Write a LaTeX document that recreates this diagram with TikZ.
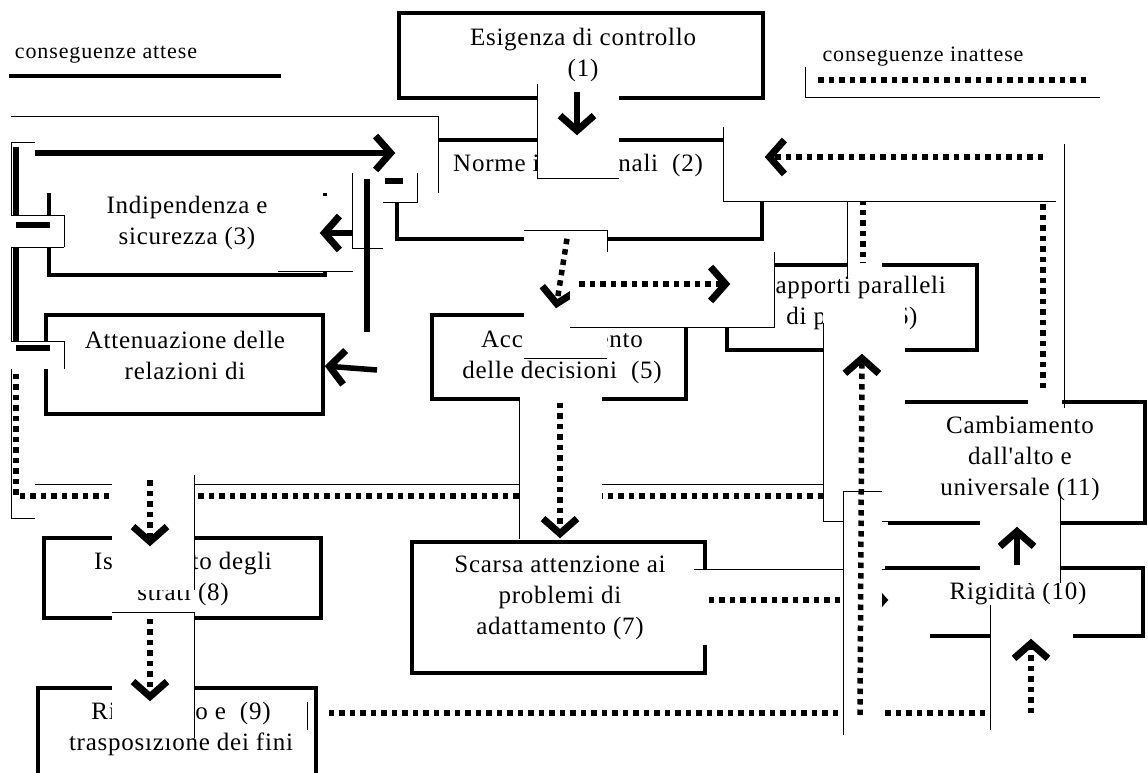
\documentclass[tikz,border=0pt]{standalone}
\usepackage{fontspec}
\setmainfont{Liberation Serif}
\newfontfamily\boxfont[LetterSpace=3]{Liberation Serif}
\newfontfamily\legfont[LetterSpace=4]{Liberation Serif}
\usetikzlibrary{arrows.meta,calc}

\tikzset{
  box/.style={draw, line width=3.5pt, inner sep=0pt},
  txt/.style={align=center, inner sep=0pt,
    font=\boxfont\fontsize{25}{31}\selectfont},
  legtxt/.style={inner sep=0pt, font=\legfont\fontsize{22}{26}\selectfont},
  blank/.style={fill=white},
  rim/.style={line width=1pt},
  firm/.style={line width=5.5pt},
  firmarrow/.style={firm, -{Straight Barb[length=15pt,width=34pt,line width=7pt]}},
  loose/.style={line width=5.5pt, dash pattern=on 5.5pt off 5pt},
  loosearrow/.style={loose, -{Straight Barb[length=15pt,width=34pt,line width=7pt]}},
}

\begin{document}
\begin{tikzpicture}[x=1pt, y=-1pt]
  \useasboundingbox (0,0) rectangle (1148,773);
  % legenda
  \node[legtxt] (leg-a) at (106,55) {conseguenze attese};
  \coordinate (leg-a-l) at (9,76);
  \coordinate (leg-a-r) at (281,76);
  \draw[line width=4pt] (leg-a-l) -- (leg-a-r);
  \node[legtxt] (leg-i) at (923,57) {conseguenze inattese};
  \draw[rim] (805,67) |- (1100,98);
  \coordinate (leg-i-l) at (818,80);
  \coordinate (leg-i-r) at (1087,80);
  \draw[loose] (leg-i-l) -- (leg-i-r);

  \foreach \n/\cx/\cy/\w/\h in {b1/581/55.5/364/85, b2/579.5/189.5/365/99,
      b3/187/227.5/276/95, b4/184.5/364.5/277/99, b5/559/357/254/84,
      b6/852/307.5/250/85, b7/558.5/607.5/293/131, b8/182.5/578/277/80,
      b9/177/740/278/104, b10/1015/602/256/68, b11/1017.5/462.5/255/121}
    \node[box, minimum width=\w pt, minimum height=\h pt] (\n) at (\cx,\cy) {};

  \foreach \n/\cx/\cy/\t in {
      t1/583/55/{Esigenza di controllo\\(1)},
      t2/578/165/{Norme impersonali\ \ (2)},
      t3/187/223/{Indipendenza e\\sicurezza (3)},
      t4/185/355/{Attenuazione delle\\relazioni di},
      t5/562/357/{Accentramento\\delle decisioni\ \ (5)},
      t6/852/303/{Rapporti paralleli\\di potere (6)},
      t7/560/598/{Scarsa attenzione ai\\problemi di\\adattamento (7)},
      t8/183/579/{Isolamento degli\\strati (8)},
      t9/181/729/{Ritualismo e\ \ (9)\\trasposizione dei fini},
      t10/1018/593/{Rigidità (10)},
      t11/1020/458/{Cambiamento\\dall'alto e\\universale (11)}}
    \node[txt] (\n) at (\cx,\cy) {\t};

  % 2 -> 3, 4 (bordo sinistro)
  \fill[blank] (11,117) rectangle (438,193);
  \draw[rim] (11,117) -| (438,193);
  \draw[firmarrow] (35,153) -- ($(b2.west)+(0,-36.5)$);

  \fill[blank] (11,143) rectangle (35,518);
  \draw[rim] (35,143) -| (11,518) -- (35,518);
  \coordinate (lc-top) at (16,147);
  \coordinate (lc-mid) at (16,341);
  \draw[firm] (lc-top) -- (lc-mid);
  \coordinate (row-r) at (823,496);
  \coordinate (row-l) at (16,496);
  \coordinate (row-up) at (16,370);
  \draw[loose] (row-r) -- (row-l) -- (row-up);
  \draw[rim] (35,484) -- (823,484);

  \foreach \ya/\yb/\yd in {215/247/225, 341/369/348} {
    \fill[blank] (11,\ya) rectangle (64,\yb);
    \draw[rim] (11,\ya) -| (64,\yb);
    \draw[firm] (16,\yd) -- (50,\yd);
  }
  \draw[rim] (11,247) -- (64,247);

  \fill[blank] (278,196) rectangle (353,271);
  \draw[rim] (278,271) -- (353,271);
  \draw[firmarrow] (367,233) -- ($(b3.east)+(-7,5.5)$);

  \fill[blank] (352,173) rectangle (383,248);
  \fill[blank] (383,173) rectangle (417,202);
  \draw[rim] (352,173) |- (383,248);
  \draw[rim] (383,202) -| (417,173);
  \coordinate (rc-top) at (367,179);
  \coordinate (rc-bot) at (367,332);
  \draw[firm] (rc-top) -- (rc-bot);
  \draw[firm] (385,181) -- (403,181);
  \draw[firmarrow] (377,370) -- ($(b4.east)+(0,1.5)$);

  % 1 -> 2
  \fill[blank] (537,84) rectangle (619,178);
  \draw[rim] (537,84) |- (619,178);
  \draw[firmarrow] ($(b1.south)+(-4,-8)$) -- ($(b2.north)+(-2.5,-3)$);

  % 2 -> 5 -> 6
  \fill[blank] (524,230) rectangle (607,358);
  \draw[rim] (524,230) -- (607,230) -- (607,252);
  \draw[rim] (524,358) -- (607,358);
  \draw[loosearrow] ($(b2.south)+(-12.5,-2)$) -- ($(b5.north)+(-3,-5)$);
  \fill[blank] (570,252) rectangle (774,327);
  \draw[rim] (570,327) -| (774,252);
  \draw[loosearrow] (579,284) -- ($(b6.west)+(5,-23.5)$);

  % 11 -> 2, 6
  \fill[blank] (847,201) rectangle (882,278);
  \draw[rim] (847,201) -- (847,278);
  \coordinate (up-a) at (863,157);
  \draw[loose] (up-a) -- ($(b6.north)+(11,0)$);
  \fill[blank] (1028,144) rectangle (1062,408);
  \draw[rim] (1064,144) -- (1064,408);
  \coordinate (up-b) at (1043,157);
  \draw[loose] ($(b11.north)+(25.5,-12)$) -- (up-b);
  \fill[blank] (723,127) rectangle (1062,201);
  \draw[rim] (723,127) |- (1056,201);
  \draw[loosearrow] (up-b) -- ($(b2.east)+(1,-32.5)$);

  % 5 -> 7
  \fill[blank] (519,397) rectangle (602,539);
  \draw[rim] (519,397) -- (519,539);
  \draw[loosearrow] ($(b5.south)+(1,2)$) -- ($(b7.north)+(1.5,-2)$);

  \fill[blank] (823,303) rectangle (905,521);
  \draw[rim] (823,323) |- (905,521);

  % 9 -> 10, 7 -> 10
  \draw[rim] (307,702) -- (307,730);
  \coordinate (low-r) at (1000,713);
  \draw[loose] ($(b9.east)+(11,-27)$) -- (low-r);
  \fill[blank] (694,570) rectangle (930,645);
  \draw[rim] (694,569) -- (930,569);
  \draw[loosearrow] ($(b7.east)+(2,-7.5)$) -- ($(b10.west)+(3,-2)$);

  % 9 -> 6
  \fill[blank] (843,491) rectangle (882,735);
  \draw[rim] (882,491) -| (843,735);
  \coordinate (low-m) at (860,715);
  \draw[loosearrow] (low-m) -- ($(b6.south)+(10,2)$);

  \fill[blank] (990,605) rectangle (1073,730);
  \draw[rim] (990,605) -- (990,730);
  \coordinate (low-b) at (1031,713);
  \draw[loosearrow] (low-b) -- ($(b10.south)+(16,1)$);

  % 10 -> 11
  \fill[blank] (980,497) rectangle (1060,583);
  \draw[rim] (1060,497) -- (1060,583);
  \draw[firmarrow] ($(b10.north)+(2,-1)$) -- ($(b11.south)+(-0.5,2)$);

  % -> 8 -> 9
  \fill[blank] (112,475) rectangle (194,590);
  \draw[rim] (194,475) -- (194,590);
  \draw[loosearrow] (150,480) -- ($(b8.north)+(-32.5,10)$);
  \fill[blank] (112,612) rectangle (194,738);
  \draw[rim] (112,612) -| (194,738);
  \draw[loosearrow] ($(b8.south)+(-32.5,-1)$) -- ($(b9.north)+(-27,15)$);
\end{tikzpicture}
\end{document}
